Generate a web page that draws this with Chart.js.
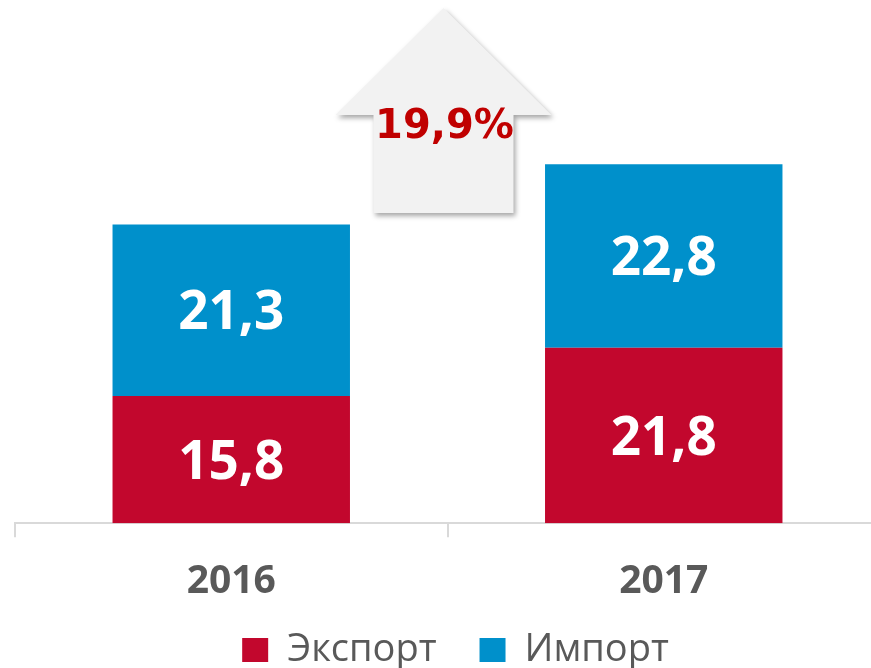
<!DOCTYPE html>
<html>
<head>
<meta charset="utf-8">
<script src="https://cdn.jsdelivr.net/npm/chart.js@4"></script>
<style>
  html, body { margin: 0; padding: 0; overflow: hidden; background: #fff; }
  #wrap { position: absolute; left: 0; top: 0; width: 895px; height: 717px; }
</style>
</head>
<body>
<div id="wrap"><canvas id="myChart"></canvas></div>
<script>
// данные
const years = ['2016', '2017'];
const exportValues = [15.8, 21.8];
const importValues = [21.3, 22.8];
const growthLabel = '19,9%';

// подписи значений внутри столбцов
const valueLabels = {
    id: 'valueLabels',
    afterDatasetsDraw(chart) {
        const ctx = chart.ctx;
        ctx.save();
        ctx.font = 'bold 53px "Open Sans"';
        ctx.fillStyle = '#fff';
        ctx.textAlign = 'center';
        ctx.textBaseline = 'middle';
        chart.data.datasets.forEach((ds, i) => {
            chart.getDatasetMeta(i).data.forEach((bar, j) => {
                const y = (bar.y + bar.base) / 2;
                ctx.fillText(ds.data[j].toFixed(1).replace('.', ','), bar.x, y + 4);
            });
        });
        ctx.restore();
    }
};

// стрелка роста между годами
const growthArrow = {
    id: 'growthArrow',
    afterLayout(chart) {
        // легенда в оригинале ближе к подписям и чуть правее центра
        const lg = chart.legend;
        lg.left += 8;
        lg.right += 8;
        lg.top -= 38;
        lg.bottom -= 38;
    },
    afterDatasetsDraw(chart) {
        const ctx = chart.ctx;
        const xs = chart.scales.x;
        const top = chart.chartArea.top;
        const cx = (xs.getPixelForValue(0) + xs.getPixelForValue(1)) / 2 - 4;
        const tip = top + 8, shoulder = top + 115, bottom = top + 213;
        ctx.save();
        ctx.shadowColor = 'rgba(0,0,0,0.35)';
        ctx.shadowBlur = 5;
        ctx.shadowOffsetX = 2;
        ctx.shadowOffsetY = 3;
        ctx.fillStyle = '#F2F2F2';
        ctx.beginPath();
        ctx.moveTo(cx, tip);
        ctx.lineTo(cx + 108, shoulder);
        ctx.lineTo(cx + 70, shoulder);
        ctx.lineTo(cx + 70, bottom);
        ctx.lineTo(cx - 70, bottom);
        ctx.lineTo(cx - 70, shoulder);
        ctx.lineTo(cx - 108, shoulder);
        ctx.closePath();
        ctx.fill();
        ctx.restore();
        ctx.save();
        ctx.font = 'bold 40px "DejaVu Sans"';
        ctx.fillStyle = '#C00000';
        ctx.textAlign = 'center';
        ctx.textBaseline = 'middle';
        ctx.fillText(growthLabel, cx + 1, top + 128);
        ctx.restore();
    }
};

const ctx = document.getElementById('myChart').getContext('2d');
const myChart = new Chart(ctx, {
    type: 'bar',
    data: {
        labels: years,
        datasets: [{
            label: 'Экспорт',
            data: exportValues,
            backgroundColor: '#C2072D',
            categoryPercentage: 1,
            barPercentage: 0.549
        }, {
            label: 'Импорт',
            data: importValues,
            backgroundColor: '#0090CB',
            categoryPercentage: 1,
            barPercentage: 0.549
        }]
    },
    options: {
        responsive: true,
        maintainAspectRatio: false,
        animation: false,
        layout: { padding: { left: 15, right: 15, top: 0, bottom: 0 } },
        scales: {
            x: {
                stacked: true,
                grid: { drawOnChartArea: false, color: '#D9D9D9', lineWidth: 2, tickLength: 14 },
                border: { color: '#D9D9D9', width: 2 },
                ticks: {
                    color: '#595959',
                    font: { family: 'Open Sans', weight: 'bold', size: 39 },
                    padding: 21
                }
            },
            y: {
                stacked: true,
                display: false,
                min: 0,
                max: 65
            }
        },
        plugins: {
            legend: {
                position: 'bottom',
                labels: {
                    boxWidth: 26,
                    boxHeight: 24,
                    color: '#595959',
                    font: { family: 'Open Sans', size: 38 },
                    padding: 43
                }
            },
            tooltip: { enabled: false }
        }
    },
    plugins: [valueLabels, growthArrow]
});
</script>
</body>
</html>
